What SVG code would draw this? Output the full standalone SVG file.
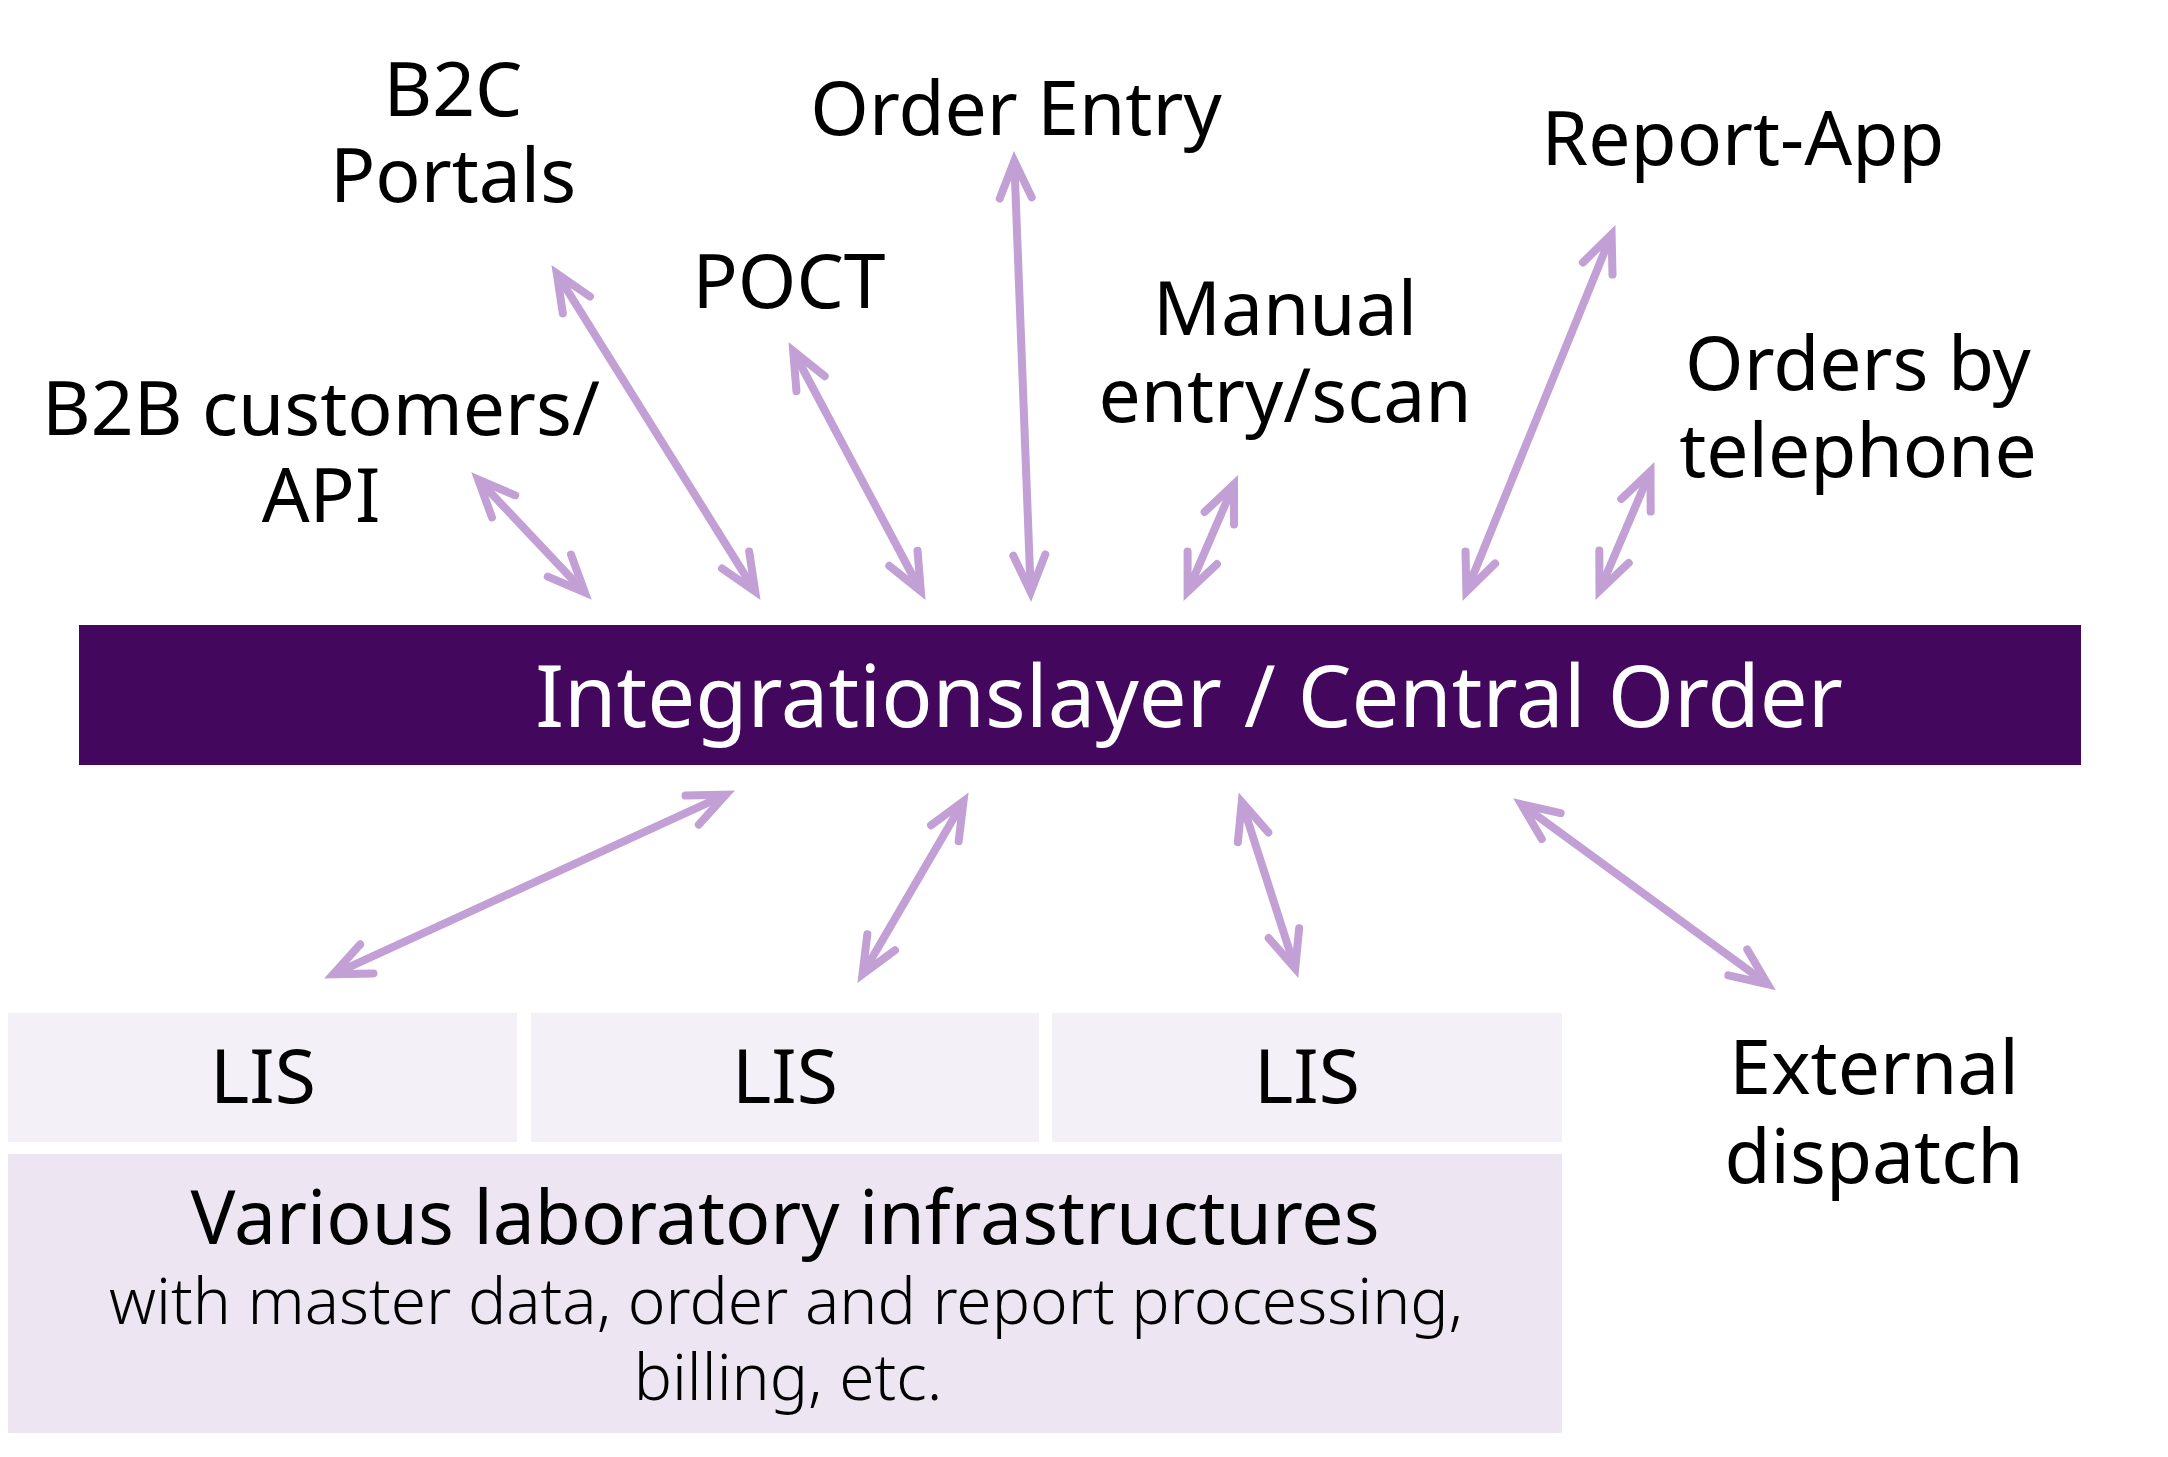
<svg xmlns="http://www.w3.org/2000/svg" width="2168" height="1457" viewBox="0 0 2168 1457">
<style>
  .lbl { font-family: "Noto Sans", "Open Sans", "DejaVu Sans", sans-serif; font-size: 75px; fill: #000; text-anchor: middle; }
  .bar { font-family: "Noto Sans", "Open Sans", "DejaVu Sans", sans-serif; font-size: 85px; fill: #fff; text-anchor: middle; }
  .sub { font-family: "Noto Sans", "Open Sans", "DejaVu Sans", sans-serif; font-size: 64px; font-weight: 300; fill: #000; text-anchor: middle; }
  .conn line { stroke: #c29fd4; stroke-width: 8; fill: none; marker-start: url(#ah); marker-end: url(#ah); }
</style>
<defs>
  <marker id="ah" markerUnits="userSpaceOnUse" markerWidth="80" markerHeight="80" refX="0" refY="0" orient="auto-start-reverse" overflow="visible">
    <path d="M-37,-16 L0,0 L-37,16" fill="none" stroke="#c29fd4" stroke-width="8" stroke-linecap="round" stroke-linejoin="miter" stroke-miterlimit="10"/>
  </marker>
</defs>
<rect width="2168" height="1457" fill="#fff"/>

<g id="integration-layer">
  <rect x="79" y="625" width="2002" height="140" fill="#43075e"/>
  <text class="bar" x="1189" y="727">Integrationslayer / Central Order</text>
</g>

<g id="b2c-portals">
  <text class="lbl" x="453" y="116">B2C</text>
  <text class="lbl" x="453" y="202">Portals</text>
</g>
<g id="order-entry">
  <text class="lbl" x="1016" y="135">Order Entry</text>
</g>
<g id="poct">
  <text class="lbl" x="789" y="308">POCT</text>
</g>
<g id="b2b-customers">
  <text class="lbl" x="321" y="435">B2B customers/</text>
  <text class="lbl" x="321" y="522">API</text>
</g>
<g id="manual-entry">
  <text class="lbl" x="1285" y="335">Manual</text>
  <text class="lbl" x="1285" y="422">entry/scan</text>
</g>
<g id="report-app">
  <text class="lbl" x="1743" y="165">Report-App</text>
</g>
<g id="orders-telephone">
  <text class="lbl" x="1858" y="390">Orders by</text>
  <text class="lbl" x="1858" y="477">telephone</text>
</g>

<g id="lis-1">
  <rect x="8" y="1013" width="509" height="129" fill="#f4f0f7"/>
  <text class="lbl" x="263" y="1103">LIS</text>
</g>
<g id="lis-2">
  <rect x="531" y="1013" width="508" height="129" fill="#f4f0f7"/>
  <text class="lbl" x="785" y="1103">LIS</text>
</g>
<g id="lis-3">
  <rect x="1052" y="1013" width="510" height="129" fill="#f4f0f7"/>
  <text class="lbl" x="1307" y="1103">LIS</text>
</g>
<g id="lab-infrastructures">
  <rect x="8" y="1154" width="1554" height="279" fill="#ede5f2"/>
  <text class="lbl" x="785" y="1244" font-size="77">Various laboratory infrastructures</text>
  <text class="sub" x="786" y="1324">with master data, order and report processing,</text>
  <text class="sub" x="788" y="1400">billing, etc.</text>
</g>
<g id="external-dispatch">
  <text class="lbl" x="1874" y="1094">External</text>
  <text class="lbl" x="1874" y="1183">dispatch</text>
</g>

<g id="connectors" class="conn">
  <line x1="478.2" y1="479.5" x2="584.8" y2="592.5"/>
  <line x1="556.8" y1="273.6" x2="755.2" y2="591.4"/>
  <line x1="793.2" y1="351" x2="920.8" y2="591"/>
  <line x1="1014.3" y1="161" x2="1030.7" y2="592"/>
  <line x1="1234" y1="484.3" x2="1187.6" y2="591.7"/>
  <line x1="1611.6" y1="234.3" x2="1466.4" y2="591.7"/>
  <line x1="1650.5" y1="471.3" x2="1599.5" y2="590.7"/>
  <line x1="725.8" y1="794.7" x2="333.2" y2="974.3"/>
  <line x1="963.5" y1="801.3" x2="862.5" y2="974.2"/>
  <line x1="1241.8" y1="802.1" x2="1295.2" y2="968.4"/>
  <line x1="1521.3" y1="804.3" x2="1767.7" y2="984.2"/>
</g>
</svg>
